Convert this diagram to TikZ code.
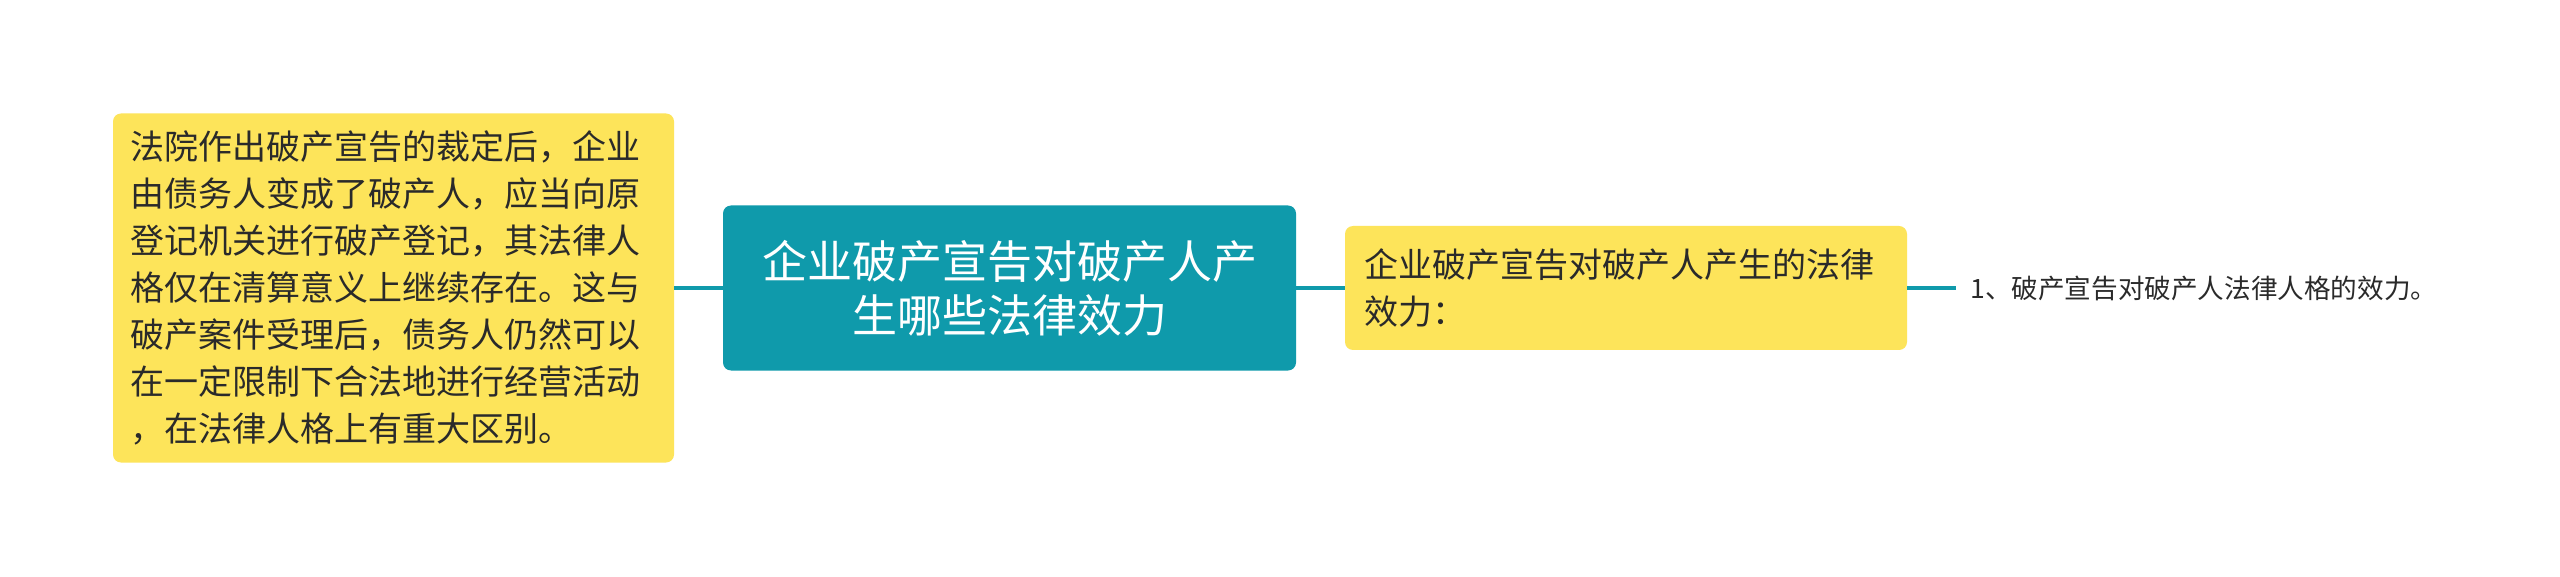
\documentclass[tikz,border=0pt]{standalone}
\usepackage{fontspec}
\setmainfont{Noto Sans CJK SC}
\usepackage{xcolor}
\usepackage{tikz}
\usetikzlibrary{positioning}
\definecolor{rootteal}{HTML}{0F9AAB}
\definecolor{note}{HTML}{FDE45A}
\definecolor{ink}{HTML}{2A2A2A}
\tikzset{
  link/.style={draw=rootteal, line width=1.7pt},
  rootbox/.style={fill=rootteal, rounded corners=4pt, text=white, inner sep=0pt,
    font=\fontsize{22.5}{27}\selectfont, align=center},
  notebox/.style={fill=note, rounded corners=4pt, text=ink, inner sep=0pt,
    font=\fontsize{17}{23.5}\selectfont, align=left},
  leaftext/.style={text=ink, inner xsep=7pt, inner ysep=0pt,
    font=\fontsize{13.3}{16}\selectfont}
}

\begin{document}
\begin{tikzpicture}
  \useasboundingbox[fill=white] (0,0) rectangle (1280pt,-288.5pt);

  % central topic
  \node[rootbox, minimum width=286.5pt, minimum height=82.5pt, text width=270pt]
    (root) at (504.75pt,-144pt) {企业破产宣告对破产人产\\生哪些法律效力};

  % left note
  \node[notebox, minimum width=280.5pt, minimum height=174.5pt, text width=263pt]
    (court) at (196.75pt,-144pt)
    {法院作出破产宣告的裁定后，企业\\由债务人变成了破产人，应当向原\\登记机关进行破产登记，其法律人\\格仅在清算意义上继续存在。这与\\破产案件受理后，债务人仍然可以\\在一定限制下合法地进行经营活动\\，在法律人格上有重大区别。};

  % right branch
  \node[notebox, minimum width=281pt, minimum height=62pt, text width=262pt]
    (effect) at (813pt,-144pt) {企业破产宣告对破产人产生的法律\\效力：};

  \node[leaftext, anchor=west] (leaf) at (978pt,-144pt) {1、破产宣告对破产人法律人格的效力。};

  \draw[link] (court.east) -- (root.west);
  \draw[link] (root.east) -- (effect.west);
  \draw[link] (effect.east) -- (leaf.west);
\end{tikzpicture}
\end{document}
